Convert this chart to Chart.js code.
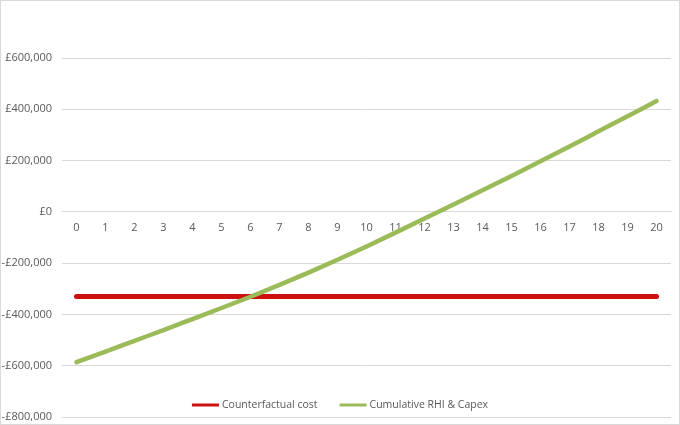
<!DOCTYPE html>
<html>
<head>
<meta charset="utf-8">
<script src="https://cdn.jsdelivr.net/npm/chart.js@4.4.1/dist/chart.umd.min.js"></script>
<style>
html, body { margin: 0; padding: 0; background: #fff; }
#wrap { position: relative; width: 680px; height: 425px; }
#frame { position: absolute; left: 0; top: 0; width: 680px; height: 425px; box-sizing: border-box; border: 1px solid #d9d9d9; pointer-events: none; }
</style>
</head>
<body>
<div id="wrap">
  <canvas id="c" width="680" height="425" style="width:680px;height:425px"></canvas>
  <div id="frame"></div>
</div>
<script>
// years after install
const years = ['0','1','2','3','4','5','6','7','8','9','10','11','12','13','14','15','16','17','18','19','20'];

// flat counterfactual cost
const counterfactual = [-330000,-330000,-330000,-330000,-330000,-330000,-330000,-330000,-330000,-330000,-330000,
  -330000,-330000,-330000,-330000,-330000,-330000,-330000,-330000,-330000,-330000];

// cumulative RHI payments less capex
const cumulativeRhi = [-586000,-545000,-503000,-461000,-418000,-375000,-331000,-285000,-237000,-187000,-135000,
  -81000,-26000,29000,84000,140000,197000,255000,314000,373000,432000];

const yMin = -800000, yMax = 600000, yStep = 200000;

const textColor = '#595959';
const gridColor = '#d9d9d9';
const fontFamily = '"Open Sans", "DejaVu Sans", sans-serif';

function money(v) {
  const s = '£' + Math.abs(v).toLocaleString('en-GB');
  return v < 0 ? '-' + s : s;
}

// legend sits inside the plot, just above the bottom gridline, like the Excel one
const bottomLegend = {
  id: 'bottomLegend',
  afterDraw(chart) {
    const ctx = chart.ctx;
    ctx.save();
    ctx.font = '10.5px ' + fontFamily;
    const lineLen = 27, gap = 3, spacing = 22;
    const items = chart.data.datasets.map(ds => ({
      label: ds.label, color: ds.borderColor, w: ctx.measureText(ds.label).width
    }));
    const total = items.reduce((s, it) => s + lineLen + gap + it.w, 0) + spacing * (items.length - 1);
    let x = (chart.width - total) / 2;
    const y = 405;
    items.forEach(it => {
      ctx.strokeStyle = it.color;
      ctx.lineWidth = 3;
      ctx.lineCap = 'butt';
      ctx.beginPath();
      ctx.moveTo(x, y);
      ctx.lineTo(x + lineLen, y);
      ctx.stroke();
      ctx.fillStyle = textColor;
      ctx.textBaseline = 'middle';
      ctx.textAlign = 'left';
      ctx.fillText(it.label, x + lineLen + gap, y);
      x += lineLen + gap + it.w + spacing;
    });
    ctx.restore();
  }
};

const ctx = document.getElementById('c').getContext('2d');
const chart = new Chart(ctx, {
  type: 'line',
  data: {
    labels: years,
    datasets: [{
      label: 'Counterfactual cost',
      data: counterfactual,
      borderColor: '#cc1010',
      borderWidth: 5,
      borderCapStyle: 'round',
      pointRadius: 0,
      order: 1
    }, {
      label: 'Cumulative RHI & Capex',
      data: cumulativeRhi,
      borderColor: '#9bbb59',
      borderWidth: 4.5,
      borderCapStyle: 'round',
      cubicInterpolationMode: 'monotone',
      pointRadius: 0,
      order: 0
    }]
  },
  options: {
    responsive: false,
    animation: false,
    devicePixelRatio: 1,
    layout: { padding: { top: 58, right: 9, bottom: 8, left: 0 } },
    plugins: {
      legend: { display: false },
      tooltip: { enabled: false }
    },
    scales: {
      x: {
        position: { y: 0 },
        offset: true,
        grid: { display: false, drawTicks: false },
        border: { display: true, color: gridColor, width: 1 },
        ticks: { color: textColor, font: { family: fontFamily, size: 11 }, padding: 9, maxRotation: 0, autoSkip: false }
      },
      y: {
        min: yMin,
        max: yMax,
        grid: { color: gridColor, drawTicks: false },
        border: { display: false },
        ticks: {
          stepSize: yStep,
          color: textColor,
          font: { family: fontFamily, size: 11 },
          padding: 10,
          callback: v => money(v)
        },
        afterFit: scale => {
          scale.width = 62;
          scale.paddingBottom = 0;
        }
      }
    }
  },
  plugins: [bottomLegend]
});
</script>
</body>
</html>
